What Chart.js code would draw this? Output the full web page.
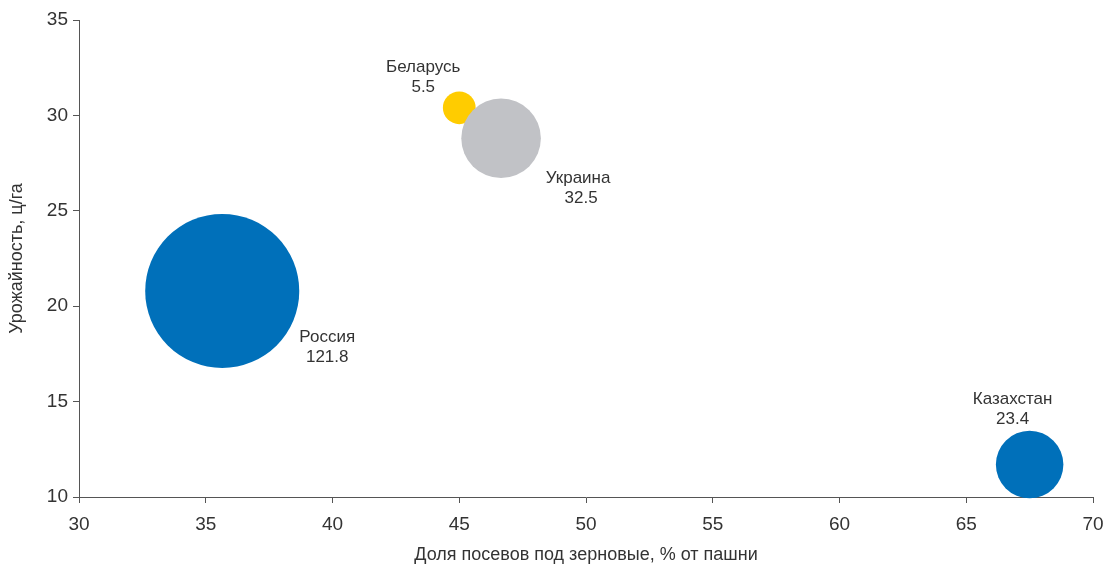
<!DOCTYPE html>
<html>
<head>
<meta charset="utf-8">
<script src="https://cdn.jsdelivr.net/npm/chart.js@4"></script>
<style>
  html, body { margin: 0; padding: 0; background: #fff; }
  #wrap { width: 1109px; height: 566px; }
</style>
</head>
<body>
<div id="wrap"><canvas id="chart"></canvas></div>
<script>
// данные
const countries = ["Россия", "Беларусь", "Украина", "Казахстан"];
const grainShare = [35.65, 45.0, 46.65, 67.5]; // доля посевов под зерновые, %
const yieldValues = [20.8, 30.4, 28.8, 11.7];  // урожайность, ц/га
const harvest = [121.8, 5.5, 32.5, 23.4];      // подпись под названием
const xTicks = [30, 35, 40, 45, 50, 55, 60, 65, 70];
const yTicks = [10, 15, 20, 25, 30, 35];

const colors = ["#0070ba", "#ffcc00", "#c1c2c6", "#0070ba"];
// смещение подписи относительно центра пузыря (px)
const labelOffsets = [[105, 56], [-36, -30], [77, 50], [-17, -55]];

const points = countries.map((c, i) => ({
  x: grainShare[i],
  y: yieldValues[i],
  r: 6.98 * Math.sqrt(harvest[i]),
}));

const bubbleLabels = {
  id: "bubbleLabels",
  afterDatasetsDraw(chart) {
    const ctx = chart.ctx;
    const meta = chart.getDatasetMeta(0);
    ctx.save();
    ctx.font = "17px 'Liberation Sans', Arial, sans-serif";
    ctx.fillStyle = "#333";
    ctx.textAlign = "center";
    ctx.textBaseline = "middle";
    meta.data.forEach((el, i) => {
      const x = el.x + labelOffsets[i][0];
      const y = el.y + labelOffsets[i][1];
      ctx.fillText(countries[i], x, y - 10);
      ctx.fillText(String(harvest[i]), x + (i == 2 ? 3 : 0), y + 10);
    });
    ctx.restore();
  },
};

const axisColor = "#555";

new Chart(document.getElementById("chart"), {
  type: "bubble",
  data: {
    datasets: [
      {
        data: points,
        backgroundColor: colors,
        borderWidth: 0,
        hoverBorderWidth: 0,
        clip: false,
      },
    ],
  },
  options: {
    responsive: true,
    maintainAspectRatio: false,
    animation: false,
    layout: { autoPadding: false, padding: { top: 20, right: 16, left: 6, bottom: 0 } },
    plugins: {
      legend: { display: false },
      tooltip: { enabled: false },
    },
    scales: {
      x: {
        type: "linear",
        min: 30,
        max: 70,
        afterBuildTicks: (s) => { s.ticks = xTicks.map((v) => ({ value: v })); },
        afterFit: (s) => {
          s.height = 69;
          s.paddingLeft = 0;
          s.paddingRight = 0;
        },
        grid: { drawOnChartArea: false, tickLength: 6, color: axisColor },
        border: { color: axisColor },
        ticks: {
          color: "#333",
          padding: 10,
          maxRotation: 0,
          font: { family: "'Liberation Sans', Arial, sans-serif", size: 19 },
        },
        title: {
          display: true,
          text: "Доля посевов под зерновые, % от пашни",
          color: "#333",
          padding: { top: 0, bottom: 0 },
          font: { family: "'Liberation Sans', Arial, sans-serif", size: 18 },
        },
      },
      y: {
        type: "linear",
        min: 10,
        max: 35,
        afterBuildTicks: (s) => { s.ticks = yTicks.map((v) => ({ value: v })); },
        afterFit: (s) => {
          s.width = 73;
          s.paddingTop = 0;
          s.paddingBottom = 0;
        },
        grid: { drawOnChartArea: false, tickLength: 6, color: axisColor },
        border: { color: axisColor },
        ticks: {
          color: "#333",
          padding: 5,
          font: { family: "'Liberation Sans', Arial, sans-serif", size: 19 },
        },
        title: {
          display: true,
          text: "Урожайность, ц/га",
          color: "#333",
          padding: { top: 0, bottom: 0 },
          font: { family: "'Liberation Sans', Arial, sans-serif", size: 18 },
        },
      },
    },
  },
  plugins: [bubbleLabels],
});
</script>
</body>
</html>
